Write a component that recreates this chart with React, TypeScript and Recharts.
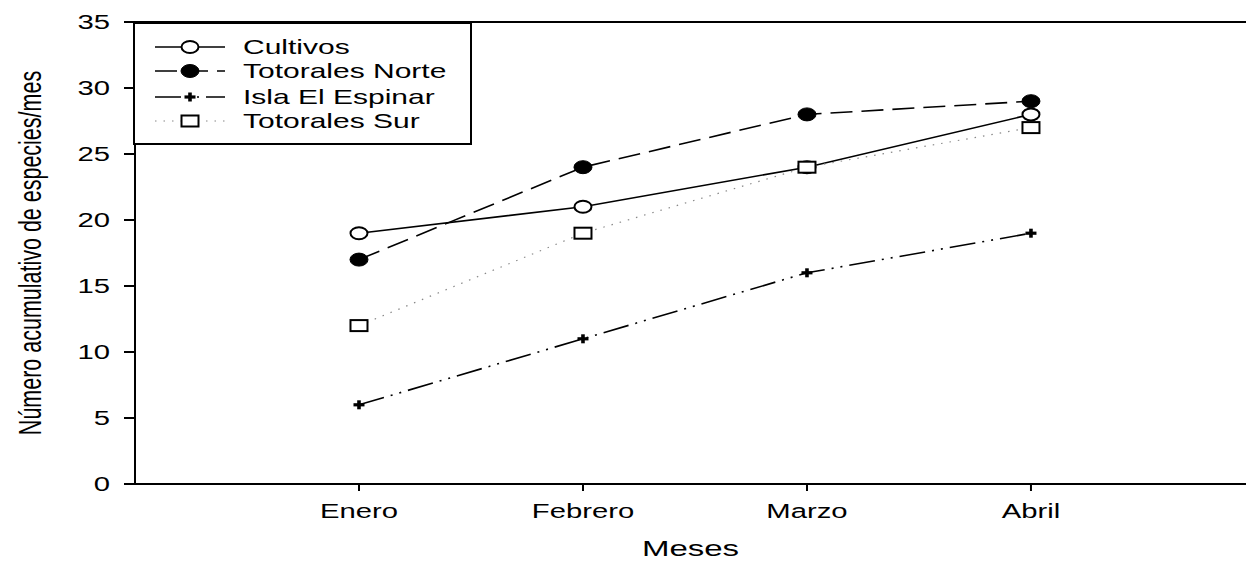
import React from 'react';
import { LineChart, Line, XAxis, YAxis, ReferenceLine } from 'recharts';

const meses = ['Enero', 'Febrero', 'Marzo', 'Abril'];
const cultivos = [19, 21, 24, 28];
const totoralesNorte = [17, 24, 28, 29];
const islaElEspinar = [6, 11, 16, 19];
const totoralesSur = [12, 19, 24, 27];
const yTicks = [0, 5, 10, 15, 20, 25, 30, 35];

const data = meses.map((mes, i) => ({
  pos: i + 1,
  mes,
  cultivos: cultivos[i],
  norte: totoralesNorte[i],
  isla: islaElEspinar[i],
  sur: totoralesSur[i],
}));

const FONT = 'Liberation Sans, Arial, sans-serif';
const SX = 1.5; // horizontal stretch of the lettering
const TICK_FS = 19.5;

type Marker = 'open' | 'filled' | 'plus' | 'square';

const series: { key: string; name: string; dash?: string; stroke: string; width: number; marker: Marker }[] = [
  { key: 'cultivos', name: 'Cultivos', stroke: '#000', width: 1.6, marker: 'open' },
  { key: 'norte', name: 'Totorales Norte', dash: '22 9', stroke: '#000', width: 1.6, marker: 'filled' },
  { key: 'isla', name: 'Isla El Espinar', dash: '26 7 2 7 2 7', stroke: '#000', width: 1.6, marker: 'plus' },
  { key: 'sur', name: 'Totorales Sur', dash: '1.5 7', stroke: '#888', width: 1.2, marker: 'square' },
];

function MarkerShape({ type, cx, cy }: { type: Marker; cx: number; cy: number }) {
  if (type === 'open') {
    return <ellipse cx={cx} cy={cy} rx={8.5} ry={6} fill="#fff" stroke="#000" strokeWidth={2} />;
  }
  if (type === 'filled') {
    return <ellipse cx={cx} cy={cy} rx={9} ry={6.5} fill="#000" stroke="#000" strokeWidth={1} />;
  }
  if (type === 'square') {
    return <rect x={cx - 8.5} y={cy - 5.5} width={17} height={11} fill="#fff" stroke="#000" strokeWidth={2} />;
  }
  return (
    <g>
      <rect x={cx - 5.5} y={cy - 1.6} width={11} height={3.2} fill="#000" />
      <rect x={cx - 1.8} y={cy - 4.5} width={3.6} height={9} fill="#000" />
    </g>
  );
}

const makeDot = (type: Marker) => (props: any) => {
  const { cx, cy, index } = props;
  if (cx == null || cy == null) return <g key={`d-${type}-${index}`} />;
  return (
    <g key={`d-${type}-${index}`}>
      <MarkerShape type={type} cx={cx} cy={cy} />
    </g>
  );
};

const XTick = (props: any) => {
  const { x, y, payload } = props;
  const label = meses[Math.round(payload.value) - 1] ?? '';
  return (
    <text
      transform={`translate(${x},${y}) scale(${SX},1)`}
      textAnchor="middle"
      dy="0.71em"
      fontFamily={FONT}
      fontSize={TICK_FS}
      fill="#000"
    >
      {label}
    </text>
  );
};

const YTick = (props: any) => {
  const { x, y, payload } = props;
  return (
    <text
      transform={`translate(${x},${y}) scale(${SX},1)`}
      textAnchor="end"
      dy="0.36em"
      fontFamily={FONT}
      fontSize={TICK_FS}
      fill="#000"
    >
      {payload.value}
    </text>
  );
};

const YTitle = (props: any) => {
  const { viewBox } = props;
  const cx = viewBox.x + 30;
  const cy = viewBox.y + viewBox.height / 2;
  return (
    <text
      transform={`translate(${cx},${cy}) scale(${SX},1) rotate(-90)`}
      textAnchor="middle"
      dy="0.35em"
      fontFamily={FONT}
      fontSize={21.5}
      fill="#000"
    >
      Número acumulativo de especies/mes
    </text>
  );
};

const XTitle = (props: any) => {
  const { viewBox } = props;
  const cx = viewBox.x + viewBox.width / 2;
  const by = viewBox.y + 72;
  return (
    <text
      transform={`translate(${cx},${by}) scale(${SX},1)`}
      textAnchor="middle"
      fontFamily={FONT}
      fontSize={22}
      fill="#000"
    >
      Meses
    </text>
  );
};

const LegendBox = () => {
  const rowY = [25, 49, 75, 99];
  return (
    <svg width={339} height={123} style={{ display: 'block' }}>
      <rect x={1} y={1} width={337} height={121} fill="#fff" stroke="#000" strokeWidth={2} />
      {series.map((s, i) => (
        <g key={s.key}>
          <line
            x1={22}
            x2={92}
            y1={rowY[i]}
            y2={rowY[i]}
            stroke={s.stroke}
            strokeWidth={s.width}
            strokeDasharray={s.dash}
          />
          <MarkerShape type={s.marker} cx={57} cy={rowY[i]} />
          <text
            transform={`translate(110,${rowY[i]}) scale(${SX},1)`}
            dy="0.36em"
            fontFamily={FONT}
            fontSize={20}
            fill="#000"
          >
            {s.name}
          </text>
        </g>
      ))}
    </svg>
  );
};

export default function App() {
  return (
    <div style={{ position: 'absolute', left: 0, top: 0, width: 1246, height: 561, background: '#fff' }}>
      <LineChart width={1246} height={561} data={data} margin={{ top: 22, right: 0, bottom: 0, left: 0 }}>
        <XAxis
          dataKey="pos"
          type="number"
          domain={[0, 4.96]}
          ticks={[1, 2, 3, 4]}
          allowDataOverflow
          height={77}
          tickSize={7}
          tickMargin={13}
          tick={<XTick />}
          axisLine={{ stroke: '#000', strokeWidth: 2 }}
          tickLine={{ stroke: '#000', strokeWidth: 2 }}
          label={<XTitle />}
        />
        <YAxis
          type="number"
          domain={[0, 35]}
          ticks={yTicks}
          allowDataOverflow
          width={135}
          tickSize={11}
          tickMargin={14}
          tick={<YTick />}
          axisLine={{ stroke: '#000', strokeWidth: 2 }}
          tickLine={{ stroke: '#000', strokeWidth: 2 }}
          label={<YTitle />}
        />
        <ReferenceLine y={35} stroke="#000" strokeWidth={2} />
        {series.map((s) => (
          <Line
            key={s.key}
            dataKey={s.key}
            name={s.name}
            type="linear"
            stroke={s.stroke}
            strokeWidth={s.width}
            strokeDasharray={s.dash}
            dot={makeDot(s.marker)}
            activeDot={false}
            isAnimationActive={false}
          />
        ))}
      </LineChart>
      <div style={{ position: 'absolute', left: 133, top: 22 }}>
        <LegendBox />
      </div>
    </div>
  );
}
